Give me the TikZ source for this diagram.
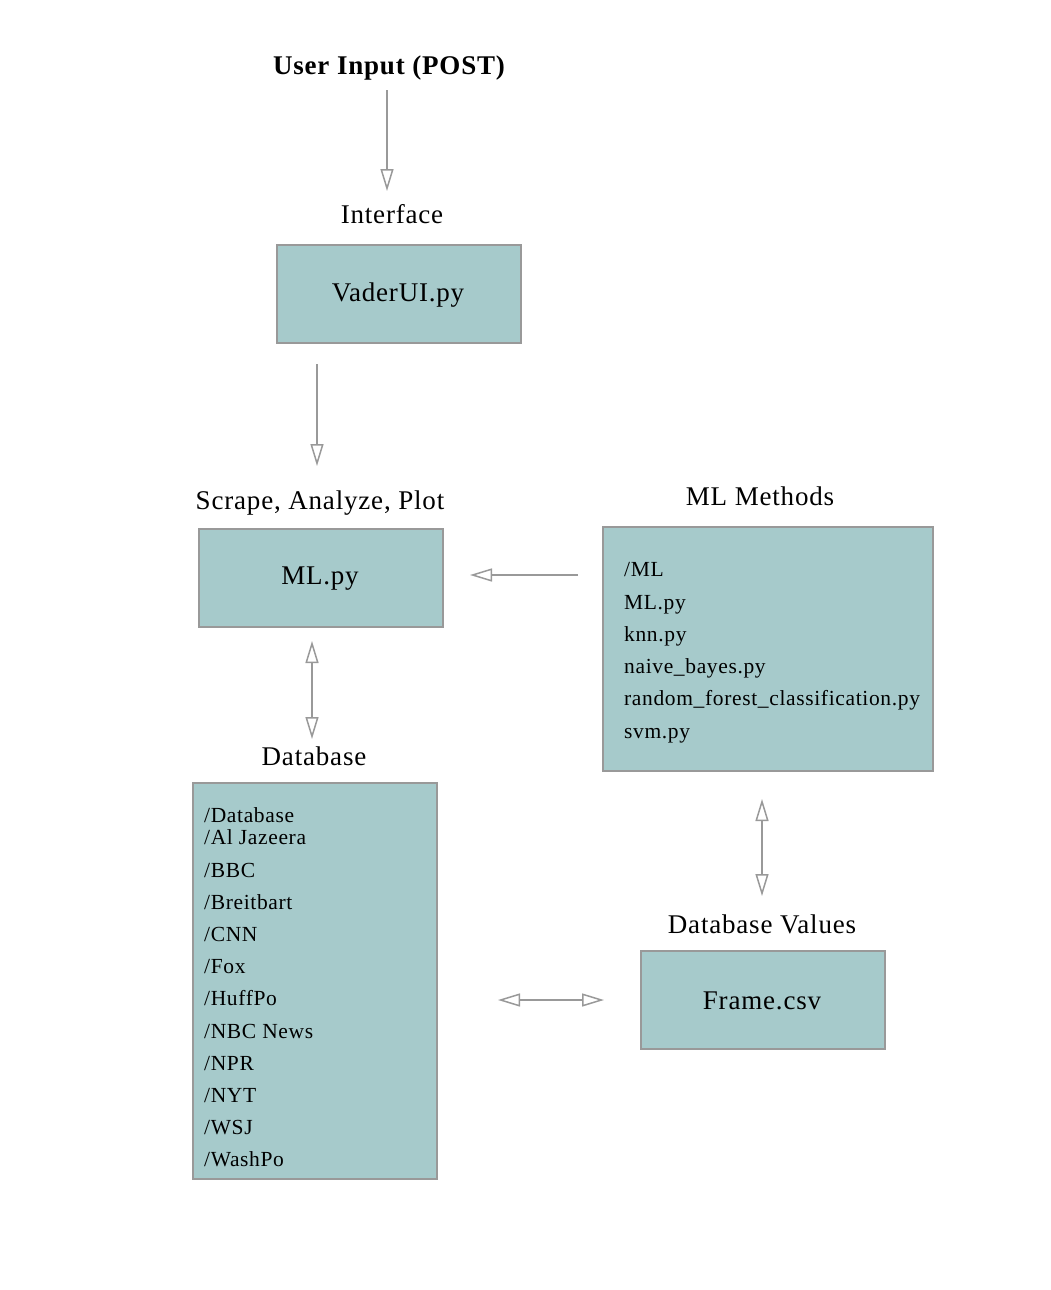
\documentclass[tikz,border=0pt]{standalone}
\usepackage{fontspec}
\setmainfont{Liberation Serif}[LetterSpace=3]
\usetikzlibrary{arrows.meta}
\definecolor{boxfill}{HTML}{A6CACB}
\definecolor{edge}{HTML}{999999}
\tikzset{
  box/.style={draw=edge, line width=1.5pt, fill=boxfill, rectangle, inner sep=0pt},
  lbl/.style={font=\fontsize{27}{31}\selectfont, inner sep=0pt},
  boxtxt/.style={font=\fontsize{27}{32}\selectfont, inner sep=0pt},
  item/.style={font=\fontsize{21.5}{26}\selectfont, inner sep=0pt, anchor=base west},
  conn/.style={draw=edge, line width=1.5pt, -{Triangle[open, length=22pt, width=13pt, line width=1.5pt]}},
  bconn/.style={draw=edge, line width=1.5pt, {Triangle[open, length=22pt, width=13pt, line width=1.5pt]}-{Triangle[open, length=22pt, width=13pt, line width=1.5pt]}}
}
\begin{document}
\begin{tikzpicture}[x=1pt,y=-1pt]
\useasboundingbox (0,0) rectangle (1050,1290);
% titles and labels
\node[lbl, font=\fontsize{27}{31}\selectfont\bfseries] (title) at (389,68) {User Input (POST)};
\node[lbl] (lintf) at (392,214) {Interface};
\node[lbl] (lscr) at (320,503) {Scrape, Analyze, Plot};
\node[lbl] (lmlm) at (760,496) {ML Methods};
\node[lbl] (ldb) at (314,756) {Database};
\node[lbl] (ldbv) at (762,924) {Database Values};
% boxes
\node[box, minimum width=244pt, minimum height=98pt] (vader) at (399,294) {};
\node[boxtxt] (vadert) at (398,295) {VaderUI.py};
\node[box, minimum width=244pt, minimum height=98pt] (ml) at (321,578) {};
\node[boxtxt] (mlt) at (320,579) {ML.py};
\node[box, minimum width=330pt, minimum height=244pt] (mlm) at (768,649) {};
\node[box, minimum width=244pt, minimum height=396pt] (db) at (315,981) {};
\node[box, minimum width=244pt, minimum height=98pt] (frame) at (763,1000) {};
\node[boxtxt] (framet) at (762,1001) {Frame.csv};
% ML methods list
\node[item] (m1) at (624,576) {/ML};
\node[item] (m2) at (624,609) {ML.py};
\node[item] (m3) at (624,641) {knn.py};
\node[item] (m4) at (624,673) {naive\_bayes.py};
\node[item] (m5) at (624,705) {random\_forest\_classification.py};
\node[item] (m6) at (624,738) {svm.py};
% database list
\node[item] (d0) at (204,822) {/Database};
\node[item] (d1) at (204,844) {/Al Jazeera};
\node[item] (d2) at (204,877) {/BBC};
\node[item] (d3) at (204,909) {/Breitbart};
\node[item] (d4) at (204,941) {/CNN};
\node[item] (d5) at (204,973) {/Fox};
\node[item] (d6) at (204,1005) {/HuffPo};
\node[item] (d7) at (204,1038) {/NBC News};
\node[item] (d8) at (204,1070) {/NPR};
\node[item] (d9) at (204,1102) {/NYT};
\node[item] (d10) at (204,1134) {/WSJ};
\node[item] (d11) at (204,1166) {/WashPo};
% connector end points
\coordinate (a1s) at (387,90);
\coordinate (a1e) at (387,191);
\coordinate (a2s) at (317,364);
\coordinate (a2e) at (317,466);
\coordinate (a3s) at (578,575);
\coordinate (a3e) at (470,575);
\coordinate (a4s) at (312,641);
\coordinate (a4e) at (312,739);
\coordinate (a5s) at (762,799);
\coordinate (a5e) at (762,896);
\coordinate (a6s) at (498,1000);
\coordinate (a6e) at (604,1000);
\draw[conn] (a1s) -- (a1e);
\draw[conn] (a2s) -- (a2e);
\draw[conn] (a3s) -- (a3e);
\draw[bconn] (a4s) -- (a4e);
\draw[bconn] (a5s) -- (a5e);
\draw[bconn] (a6s) -- (a6e);
\end{tikzpicture}
\end{document}
